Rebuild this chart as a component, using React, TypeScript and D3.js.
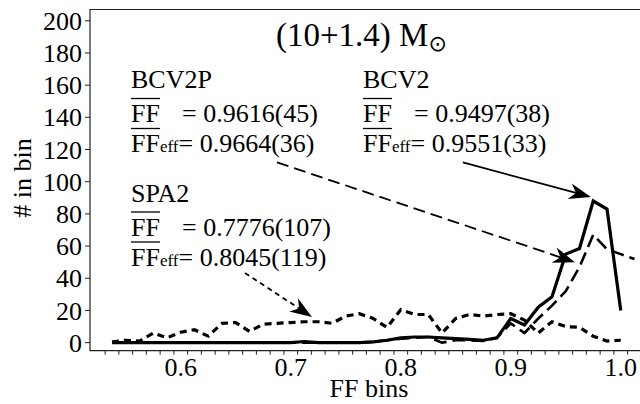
import React from 'react';
import * as d3 from 'd3';

// FF bin centres
const bins = [0.5375, 0.55, 0.5625, 0.575, 0.5875, 0.6, 0.6125, 0.625, 0.6375, 0.65,
  0.6625, 0.675, 0.6875, 0.7, 0.7125, 0.725, 0.7375, 0.75, 0.7625, 0.775,
  0.7875, 0.8, 0.8125, 0.825, 0.8375, 0.85, 0.8625, 0.875, 0.8875, 0.9,
  0.9125, 0.925, 0.9375, 0.95, 0.9625, 0.975, 0.9875, 1.0, 1.0125];

const bcv2 = [0, 0, 0, 0, 0, 0, 0, 0, 0, 0,
  0, 0, 0, 0, 0.7, 0, 0, 0, 0, 0.5,
  1.5, 3, 3.5, 3.5, 3, 2.5, 2, 1.5, 3, 15,
  11, 22, 28.5, 55, 58.5, 88, 83, 20, null];

const bcv2p = [0, 0, 0, 0, 0, 0, 0, 0, 0, 0,
  0, 0, 0, 0, 0, 0, 0, 0, 0, 0.5,
  1.5, 2.5, 3, 3.5, 0, 1.5, 1.5, 1, 3, 12,
  6, 15, 23, 32, 47, 67, 58, 55, 52];

const spa2 = [0.5, 1.5, 1, 6, 3, 6.5, 8, 4, 12, 12.5,
  7, 11.5, 12, 12.5, 13, 13, 12, 16.5, 18, 15,
  9.5, 20.5, 17.5, 17.5, 6, 15, 17.5, 16.5, 17.5, 18,
  14, 6, 13, 10, 9.5, 4, 1, 1.5, null];

const yTicks = [0, 20, 40, 60, 80, 100, 120, 140, 160, 180, 200];
const xTickLabels = [0.6, 0.7, 0.8, 0.9, 1.0];
const xTickText = ['0.6', '0.7', '0.8', '0.9', '1.0'];

// annotation arrows (data coordinates): [x1, y1, x2, y2]
const arrowBCV2 = [0.8565, 112, 0.9729, 90.5];
const arrowBCV2P = [0.6875, 112, 0.9584, 50];
const arrowSPA2 = [0.6584, 43.3, 0.7193, 16];

const FONT = '"Liberation Serif", "Times New Roman", serif';

function arrowPaths(x1: number, y1: number, x2: number, y2: number, L = 22, W = 16) {
  const dx = x2 - x1, dy = y2 - y1;
  const len = Math.hypot(dx, dy);
  const ux = dx / len, uy = dy / len;
  const nx = -uy, ny = ux;
  const bx = x2 - ux * L, by = y2 - uy * L;
  const nX = x2 - ux * L * 0.7, nY = y2 - uy * L * 0.7;
  const head = `M${x2},${y2}L${bx + nx * W / 2},${by + ny * W / 2}L${nX},${nY}L${bx - nx * W / 2},${by - ny * W / 2}Z`;
  const shaft = `M${x1},${y1}L${nX},${nY}`;
  return { head, shaft };
}

export default function App() {
  const x = d3.scaleLinear().domain([0.5175, 1.08]).range([90, 708.75]);
  const y = d3.scaleLinear().domain([-5, 207]).range([350.7, 9.5]);

  const mk = (vals: (number | null)[]) =>
    d3.line<number>()
      .defined((_, i) => vals[i] !== null)
      .x((_, i) => x(bins[i]))
      .y((_, i) => y(vals[i] as number))(bins as any) as string;

  const minor = d3.range(0.53125, 1.07, 0.0125);

  const arrow = (a: number[], dash: string | undefined) => {
    const p = arrowPaths(x(a[0]), y(a[1]), x(a[2]), y(a[3]));
    return (
      <g>
        <path d={p.shaft} fill="none" stroke="#000" strokeWidth={1.8} strokeDasharray={dash} />
        <path d={p.head} fill="#000" stroke="none" />
      </g>
    );
  };

  const block = (x0: number, b0: number, title: string, v1: string, v2: string) => (
    <g fontFamily={FONT} fontSize={26} fill="#000">
      <text x={x0} y={b0}>{title}</text>
      <text x={x0} y={b0 + 34}>FF</text>
      <line x1={x0} x2={x0 + 29} y1={b0 + 10.5} y2={b0 + 10.5} stroke="#000" strokeWidth={1.3} />
      <text x={x0 + 51} y={b0 + 34}>= {v1}</text>
      <text x={x0} y={b0 + 64}>FF<tspan fontSize={17}>eff</tspan>= {v2}</text>
      <line x1={x0} x2={x0 + 29} y1={b0 + 40.5} y2={b0 + 40.5} stroke="#000" strokeWidth={1.3} />
    </g>
  );

  return (
    <svg width={640} height={404} style={{ position: 'absolute', left: 0, top: 0, background: '#fff' }}>
      {/* frame */}
      <path d={`M${x.range()[1]},${y(207)}H90V${y(-5)}H${x.range()[1]}`} fill="none" stroke="#222" strokeWidth={1.2} />
      {/* y ticks */}
      {yTicks.map(t => (
        <g key={t}>
          <line x1={85} x2={90} y1={y(t)} y2={y(t)} stroke="#222" strokeWidth={1} />
          <text x={82} y={y(t)} dy="0.35em" textAnchor="end" fontFamily={FONT} fontSize={26}>{t}</text>
        </g>
      ))}
      {/* x minor ticks */}
      {minor.map((t, i) => (
        <line key={i} x1={x(t)} x2={x(t)} y1={y(-5)} y2={y(-5) + 4} stroke="#222" strokeWidth={1} />
      ))}
      {xTickLabels.map((t, i) => (
        <text key={t} x={x(t)} y={376} textAnchor="middle" fontFamily={FONT} fontSize={26}>{xTickText[i]}</text>
      ))}
      <text x={369} y={397} textAnchor="middle" fontFamily={FONT} fontSize={26}>FF bins</text>
      <text transform="translate(31,178) rotate(-90)" textAnchor="middle" fontFamily={FONT} fontSize={26}># in bin</text>

      {/* series */}
      <path d={mk(spa2)} fill="none" stroke="#000" strokeWidth={3.2} strokeDasharray="7,5" />
      <path d={mk(bcv2p)} fill="none" stroke="#000" strokeWidth={2.6} strokeDasharray="13,6" />
      <path d={mk(bcv2)} fill="none" stroke="#000" strokeWidth={3.2} strokeLinejoin="miter" />

      {/* title */}
      <text x={276} y={46} fontFamily={FONT} fontSize={33}>(10+1.4) M<tspan fontSize={22} dy={5} fontFamily='"DejaVu Sans", sans-serif'>⊙</tspan></text>

      {block(131, 88, 'BCV2P', '0.9616(45)', '0.9664(36)')}
      {block(363, 88, 'BCV2', '0.9497(38)', '0.9551(33)')}
      {block(131, 201.5, 'SPA2', '0.7776(107)', '0.8045(119)')}

      {arrow(arrowBCV2, undefined)}
      {arrow(arrowBCV2P, '12,6')}
      {arrow(arrowSPA2, '5,4')}
    </svg>
  );
}
